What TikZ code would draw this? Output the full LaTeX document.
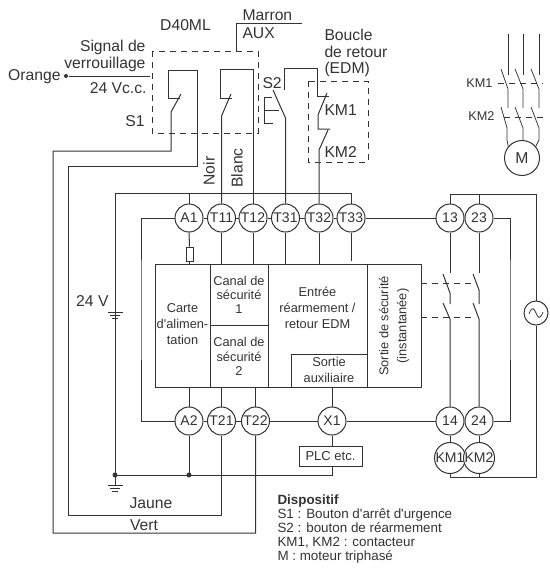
\documentclass[tikz,border=0pt]{standalone}
\usepackage{fontspec}
\setmainfont{Liberation Sans}[Ligatures=TeXOff]
\newcommand{\fsize}[1]{\fontsize{#1}{#1}\selectfont}

\begin{document}
\begin{tikzpicture}[x=1pt,y=-1pt,font=\fsize{15.7},line width=1pt,
   wire/.style={draw=inkgrey},
   thinwire/.style={draw=inkgrey,line width=0.75pt},
   dashbox/.style={draw=inkgrey,line width=0.85pt,dash pattern=on 6pt off 5pt},
   terminal/.style={circle,draw=inkgrey,fill=white,inner sep=0pt,minimum size=28pt,font=\fsize{14},text=inkgrey},
   coil/.style={circle,draw=inkgrey,fill=white,inner sep=0pt,minimum size=31pt,font=\fsize{14},text=inkgrey},
   lbl/.style={text=inkgrey,inner sep=0pt,align=center},
   lbox/.style={lbl,font=\fsize{12.8},align=center},
   dot/.style={circle,fill=inkgrey,inner sep=0pt,minimum size=5pt}]
   \definecolor{inkgrey}{rgb}{0.2, 0.2, 0.2}
   \useasboundingbox (0,0) rectangle (549,570);

   \node[terminal] (a1) at (189,218) {A1};
   \node[terminal] (t11) at (221.5,218) {T11};
   \node[terminal] (t12) at (253,218) {T12};
   \node[terminal] (t31) at (285.5,218) {T31};
   \node[terminal] (t32) at (319,218) {T32};
   \node[terminal] (t33) at (351,218) {T33};
   \node[terminal] (t13) at (450,218) {13};
   \node[terminal] (t23) at (479,218) {23};
   \node[terminal] (a2) at (189,421) {A2};
   \node[terminal] (t21) at (221.5,421) {T21};
   \node[terminal] (t22) at (255.5,421) {T22};
   \node[terminal] (x1) at (332,421) {X1};
   \node[terminal] (t14) at (450,421) {14};
   \node[terminal] (t24) at (479,421) {24};
   \node[coil] (km1) at (450,458) {KM1};
   \node[coil] (km2) at (479,458) {KM2};
   \node[circle,draw=inkgrey,minimum size=24pt,inner sep=0pt] (ac) at (536,313) {};
   \node[circle,draw=inkgrey,minimum size=35pt,inner sep=0pt,text=inkgrey] (motor) at (522,158) {M};
   \node[draw=inkgrey,minimum width=63pt,minimum height=20pt,inner sep=0pt,lbl,font=\fsize{13}] (plc) at (330.5,456) {PLC etc.};
   \node[draw=inkgrey,line width=0.75pt,minimum width=7pt,minimum height=14pt,inner sep=0pt] (fuse) at (189.5,254) {};

   % unit
   \coordinate (boxtl) at (155,264);
   \coordinate (boxbr) at (421,387);
   \draw[wire] (boxtl) rectangle (boxbr);
   \draw[wire] (210,264) -- (210,387);
   \draw[wire] (268,264) -- (268,387);
   \draw[wire] (367,264) -- (367,387);
   \draw[wire] (210,325) -- (268,325);
   \draw[wire] (291,387) -- (291,354) -- (367,354);
   \node[lbox] (carte) at (182.5,324) {Carte\\[3.5pt]d'alimen-\\[3.5pt]tation};
   \node[lbox] (canal1) at (239,295) {Canal de\\[1.5pt]sécurité\\[1.5pt]1};
   \node[lbox] (canal2) at (239,356.5) {Canal de\\[1.5pt]sécurité\\[1.5pt]2};
   \node[lbox] (entree) at (317.5,308) {Entrée\\[3.5pt]réarmement /\\[3.5pt]retour EDM};
   \node[lbox] (sortiea) at (329,370) {Sortie\\[3pt]auxiliaire};
   \node[lbox,rotate=90] (sorties) at (394,326) {Sortie de sécurité\\[5pt](instantanée)};

   % terminals
   \draw[wire] (a1) -- (t11) -- (t12) -- (t31) -- (t32) -- (t33) -- (t13) -- (t23);
   \draw[wire] (a2) -- (t21) -- (t22) -- (x1) -- (t14) -- (t24);
   \draw[wire] (a1.south) -- (fuse.north);
   \draw[wire] (fuse) -- (189.5,264);
   \draw[wire] (t11.south) -- (221.5,264);
   \draw[wire] (t12.south) -- (253,264);
   \draw[wire] (t31.south) -- (285.5,264);
   \draw[wire] (t32.south) -- (319,264);
   \draw[wire] (t33.south) -- (351,261);
   \draw[wire] (a2.north) -- (189,387);
   \draw[wire] (t21.north) -- (221.5,387);
   \draw[wire] (t22.north) -- (255.5,387);
   \draw[wire] (x1.north) -- (332,387);
   \draw[wire] (t14.south) -- (km1.north);
   \draw[wire] (t24.south) -- (km2.north);
   \draw[wire] (x1.south) -- (plc.north -| x1);

   % supply
   \coordinate (bus) at (115,193);
   \coordinate (gnd) at (115,475);
   \coordinate (railr) at (141,300);
   \draw[wire] (a1.west) -| (railr) |- (a2.west);
   \draw[wire] (gnd) -- (bus) -| (a1.north);
   \draw[wire] (bus) -| (t33.north);
   \draw[wire] (107.5,312.5) -- (122.5,312.5);
   \draw[wire] (110,315.5) -- (120,315.5);
   \draw[wire] (112,318) -- (118,318);
   \node[lbl,anchor=east] (v24) at (109,301) {24 V};
   \draw[wire] (gnd) -- (115,485);
   \draw[wire] (107.5,485) -- (122.5,485);
   \draw[wire] (110,488) -- (120,488);
   \draw[wire] (112,491) -- (118,491);
   \draw[wire] (plc.south -| x1) |- (gnd);
   \draw[wire] (a2.south) -- (a2 |- gnd);
   \node[dot] (dotg) at (gnd) {};
   \node[dot] (dota) at (a2 |- gnd) {};

   % emergency stop
   \draw[dashbox] (152,51) rectangle (258,133);
   \node[lbl] (d40) at (185.5,25) {D40ML};
   \node[lbl,anchor=east] (sig1) at (146,47) {Signal de};
   \node[lbl,anchor=east] (sig2) at (146,64) {verrouillage};
   \node[lbl,anchor=east] (sig3) at (147,88) {24 Vc.c.};
   \node[lbl,anchor=east] (s1) at (145,121) {S1};
   \node[lbl,anchor=east] (orange) at (61,77) {Orange};
   \node[dot,minimum size=4pt] (dotor) at (66,76) {};
   \coordinate (orend) at (150,76);
   \draw[thinwire] (dotor) -- (orend);
   \coordinate (s1top) at (168,98);
   \coordinate (s1low) at (171,112);
   \coordinate (ver) at (53,151);
   \coordinate (jau) at (68,166);
   \draw[wire] (180,98) -- (s1top) -- (168,70) -- (197,70) -- (197,166) -- (jau) -- (68,515) -| (t21.south);
   \draw[wire] (181,94) -- (s1low) -- (171,151) -- (ver) -- (53,533) -| (t22.south);
   \node[lbl] (jaune) at (151,503) {Jaune};
   \node[lbl] (vert) at (144,525) {Vert};
   \coordinate (s2top) at (220,98);
   \coordinate (s2low) at (221.5,116);
   \draw[wire] (232,98) -- (s2top) -- (220,69) -- (253,69) -- (t12.north);
   \draw[wire] (231,94) -- (s2low) -- (t11.north);
   \node[lbl,rotate=90] (noir) at (209,171) {Noir};
   \node[lbl,rotate=90] (blanc) at (237,168) {Blanc};

   % aux
   \coordinate (auxa) at (236,51);
   \coordinate (auxb) at (302,23);
   \draw[thinwire] (auxa) |- (auxb);
   \node[lbl,anchor=west] (marron) at (242,15) {Marron};
   \node[lbl,anchor=west] (aux) at (242,33) {AUX};

   % reset and EDM
   \node[lbl,anchor=west] (s2) at (262,83) {S2};
   \draw[wire] (273,90) -- (285.5,118) -- (t31.north);
   \draw[wire] (284,90) -- (284,68) -- (317.5,68) -- (317.5,96) -- (329,96);
   \draw[wire] (327,93) -- (318,115) -- (318,129) -- (330,129);
   \draw[wire] (328,130) -- (319,150) -- (t32.north);
   \draw[thinwire] (272,97) -- (264,97) -- (264,123) -- (273,123);
   \draw[thinwire] (264,110) -- (279,110);
   \draw[dashbox] (308,81) rectangle (368,162);
   \node[lbl,anchor=west,align=left] (edm) at (324,53) {Boucle\\[0.8pt]de retour\\[0.8pt](EDM)};
   \node[lbl,anchor=west] (kma) at (324,110) {KM1};
   \node[lbl,anchor=west] (kmb) at (324,152) {KM2};

   % outputs
   \coordinate (acur) at (536,194);
   \coordinate (aclr) at (536,477);
   \coordinate (ret) at (510,300);
   \draw[wire] (t13.north) |- (acur) -- (ac.north);
   \draw[wire] (t23.north) -- (t23 |- acur);
   \draw[wire] (ac.south) -- (aclr) -| (km1.south);
   \draw[wire] (km2.south) -- (km2 |- aclr);
   \draw[wire] (t23.east) -| (ret) |- (t24.east);
   \draw[thinwire] (529,314) .. controls (532,306) and (534,308) .. (536,313) .. controls (538,318) and (540,320) .. (543,312);
   \draw[wire] (t13.south) -- (450,273);
   \draw[wire] (443,274) -- (450,293) -- (450,304);
   \draw[wire] (443,303) -- (450,319) -- (t14.north);
   \draw[wire] (t23.south) -- (479,273);
   \draw[wire] (473,274) -- (479,290) -- (479,304);
   \draw[wire] (473,303) -- (479,319) -- (t24.north);
   \draw[dashbox] (421,283) -- (476,283);
   \draw[dashbox] (421,317) -- (476,317);

   % motor
   \draw[thinwire] (508,34) -- (508,75);
   \draw[thinwire] (523,34) -- (523,75);
   \draw[thinwire] (539,34) -- (539,75);
   \draw[thinwire] (501,69) -- (508,89) -- (508,108);
   \draw[thinwire] (515,69) -- (523,89) -- (523,108);
   \draw[thinwire] (531,69) -- (539,89) -- (539,108);
   \draw[thinwire] (501,107) -- (507,128) -- (507,140) -- (motor.140);
   \draw[thinwire] (515,107) -- (523,128) -- (motor.north -| 523,0);
   \draw[thinwire] (531,107) -- (539,128) -- (539,140) -- (motor.40);
   \draw[dashbox,line width=0.7pt] (498,83) -- (543,83);
   \draw[dashbox,line width=0.7pt] (504,117) -- (543,117);
   \node[lbl,anchor=east,font=\fsize{12.7}] (kmc) at (493,83) {KM1};
   \node[lbl,anchor=east,font=\fsize{12.7}] (kmd) at (495,116) {KM2};

   % legend
   \node[lbl,anchor=north west,align=left,font=\fsize{13.4}] (legend) at (277,494) {\textbf{Dispositif}\\[0.6pt]S1 : Bouton d'arrêt d'urgence\\[0.6pt]S2 : bouton de réarmement\\[0.6pt]KM1, KM2 : contacteur\\[0.6pt]M : moteur triphasé};
\end{tikzpicture}
\end{document}
